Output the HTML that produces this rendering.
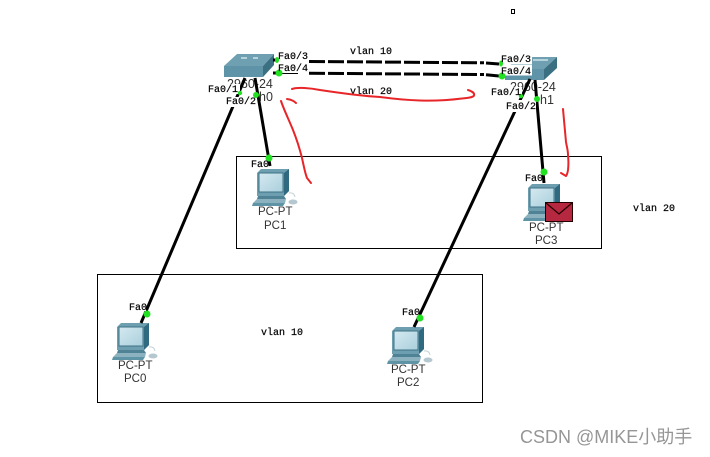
<!DOCTYPE html>
<html>
<head>
<meta charset="utf-8">
<style>
html,body{margin:0;padding:0;background:#fff;width:710px;height:457px;overflow:hidden}
svg{display:block}
.m{font:10px "Liberation Mono",monospace;fill:#000;stroke:#000;stroke-width:.2px}
.s{font:11.500px "Liberation Sans",sans-serif;fill:#333}
.t{font:12.500px "Liberation Sans",sans-serif;fill:#333}
.w{font:18px "Liberation Sans","Noto Sans CJK SC",sans-serif;fill:#969696}
</style>
</head>
<body>
<svg width="710" height="457" viewBox="0 0 710 457" xmlns="http://www.w3.org/2000/svg">
<defs>
<linearGradient id="sc" x1="0" y1="0" x2="1" y2="1">
<stop offset="0" stop-color="#d5e9f0"/><stop offset="1" stop-color="#a9cfdc"/>
</linearGradient>
<g id="pc">
<polygon points="5,4 9,0 37,0 37,22 32,27 5,27" fill="#6d9fb1"/>
<polygon points="32,4 37,0 37,22 32,27" fill="#2f6a80"/>
<rect x="7" y="4" width="24" height="19" fill="url(#sc)" stroke="#3f7285"/>
<polygon points="6,27 32,27 34,30 5,30" fill="#4f8295"/>
<polygon points="5,30 34,30 33,34 1,34" fill="#8cb2c0"/>
<polygon points="1,34 33,34 31,37 0,37" fill="#5f93a6"/>
<path d="M37,24 Q42,23 43,28" fill="none" stroke="#c4d2d8"/>
<ellipse cx="41" cy="33" rx="4.500" ry="2.500" fill="#b5c8d0"/>
</g>
</defs>

<rect x="511.500" y="9.500" width="3" height="4" fill="#fff" stroke="#000"/>

<!-- VLAN boxes -->
<rect x="236.500" y="156.500" width="365" height="92" fill="none" stroke="#000"/>
<rect x="97.500" y="274.500" width="385" height="128" fill="none" stroke="#000"/>

<!-- Switch 0 -->
<polygon points="224,66 237,54 274,54 263,66" fill="#6ea0b2"/>
<polygon points="224,66 263,66 263,77 224,77" fill="#5f93a8"/>
<polygon points="263,66 274,54 274,65 263,77" fill="#3b6f82"/>
<line x1="241" y1="58" x2="247" y2="58" stroke="#cfe3ea" stroke-width="1.500"/>
<line x1="253" y1="58" x2="258" y2="58" stroke="#cfe3ea" stroke-width="1.500"/>

<!-- Switch 1 -->
<polygon points="505,69 520,57 557,57 544,69" fill="#6ea0b2"/>
<polygon points="505,69 544,69 544,80 505,80" fill="#5f93a8"/>
<polygon points="544,69 557,57 557,68 544,80" fill="#3b6f82"/>
<line x1="533" y1="60" x2="548" y2="60" stroke="#cfe3ea" stroke-width="1.500"/>

<!-- PCs -->
<use href="#pc" x="252" y="169"/>
<use href="#pc" x="523" y="184"/>
<use href="#pc" x="112" y="323"/>
<use href="#pc" x="387" y="327"/>

<!-- Device names under links -->
<text class="t" x="227" y="88">2960-24</text>
<text class="t" x="510" y="91">2960-24</text>

<!-- Links -->
<g stroke="#000" stroke-width="3" fill="none">
<line x1="245" y1="78" x2="141" y2="323"/>
<line x1="255" y1="78" x2="270" y2="166"/>
<line x1="530" y1="79" x2="414" y2="327"/>
<line x1="535" y1="80" x2="544" y2="183"/>
<line x1="273" y1="60" x2="280" y2="60"/>
<line x1="273" y1="73" x2="281" y2="73"/>
<line x1="309" y1="61.500" x2="484" y2="62.800" stroke-dasharray="16 3"/>
<line x1="309" y1="73.300" x2="484" y2="74.500" stroke-dasharray="16 3"/>
<line x1="486" y1="63" x2="499" y2="64"/>
<line x1="486" y1="74.700" x2="499" y2="76"/>
</g>
<line x1="281" y1="73.500" x2="298" y2="73.500" stroke="#000" stroke-width="1"/>

<!-- Envelope -->
<rect x="545.500" y="202.500" width="27" height="19" fill="#b5283f" stroke="#200"/>
<polyline points="546,203 559,214 572,203" fill="none" stroke="#200" stroke-width="1.200"/>

<!-- Label backgrounds -->
<g fill="#fff">
<rect x="278" y="51" width="31" height="11"/>
<rect x="278" y="63" width="31" height="9.500"/>
<rect x="208" y="84" width="32" height="10"/>
<rect x="226" y="97" width="30" height="10"/>
<rect x="501" y="53" width="31" height="11"/>
<rect x="501" y="64.500" width="31" height="11"/>
<rect x="491" y="87" width="31" height="10"/>
<rect x="506" y="100" width="30" height="12"/>
<rect x="251" y="159" width="17" height="9"/>
<rect x="525" y="173" width="17" height="9"/>
<rect x="129" y="302" width="17" height="9"/>
<rect x="402" y="307" width="17" height="9"/>
</g>

<!-- Green link lights -->
<g fill="#22e022">
<ellipse cx="277" cy="60" rx="2" ry="3"/>
<circle cx="279" cy="73" r="3.500"/>
<circle cx="240" cy="93" r="2.200"/>
<circle cx="256" cy="95" r="3"/>
<ellipse cx="501" cy="63.500" rx="2" ry="3"/>
<circle cx="502" cy="76" r="3.500"/>
<circle cx="521" cy="96" r="2.200"/>
<circle cx="537" cy="99" r="3"/>
<circle cx="269" cy="158" r="3.500"/>
<circle cx="544" cy="172" r="3.500"/>
<circle cx="147" cy="314" r="3.500"/>
<circle cx="420" cy="318" r="3.500"/>
</g>

<!-- Labels -->
<text class="m" x="278" y="59">Fa0/3</text>
<text class="m" x="278" y="71">Fa0/4</text>
<text class="m" x="350" y="54">vlan 10</text>
<text class="m" x="350" y="94">vlan 20</text>
<text class="m" x="208" y="92">Fa0/1</text>
<text class="m" x="226" y="104">Fa0/2</text>
<text class="t" x="259" y="101">h0</text>

<text class="m" x="501" y="62">Fa0/3</text>
<text class="m" x="501" y="74">Fa0/4</text>
<text class="m" x="491" y="95">Fa0/1</text>
<text class="m" x="506" y="109">Fa0/2</text>
<text class="t" x="540" y="104">h1</text>

<text class="m" x="251" y="167">Fa0</text>
<text class="m" x="525" y="181">Fa0</text>
<text class="m" x="129" y="310">Fa0</text>
<text class="m" x="402" y="315">Fa0</text>

<text class="s" x="258" y="215">PC-PT</text>
<text class="s" x="264" y="229">PC1</text>
<text class="s" x="529" y="231">PC-PT</text>
<text class="s" x="535" y="244">PC3</text>
<text class="s" x="118" y="369">PC-PT</text>
<text class="s" x="124" y="382">PC0</text>
<text class="s" x="391" y="373">PC-PT</text>
<text class="s" x="397" y="386">PC2</text>

<text class="m" x="633" y="211">vlan 20</text>
<text class="m" x="261" y="335">vlan 10</text>

<!-- Red hand-drawn -->
<g fill="none" stroke="#e8262a" stroke-width="2" stroke-linecap="round" stroke-linejoin="round">
<path d="M292,89 C298,87 310,88 320,90 C340,93 360,96 380,97 C395,99 405,100 420,100.500 C435,101 450,100 462,98.500 C468,98 473,97.500 474,95.500 C475,92.500 471,91 468,90"/>
<path d="M287,99 C291,99.500 294,101 296,103"/>
<path d="M281,101 C284,110 289,120 293,130 C297,140 300,150 302,158 C304,167 305,173 307,178 L311,183"/>
<path d="M563,109 C564,120 565,132 566,142 C567,148 568,150 568,155 C568.500,160 568.500,166 568,170 C567.500,173 567,175 566,176 L561,173"/>
</g>

<text class="w" x="520" y="443">CSDN @MIKE小助手</text>
</svg>
</body>
</html>
